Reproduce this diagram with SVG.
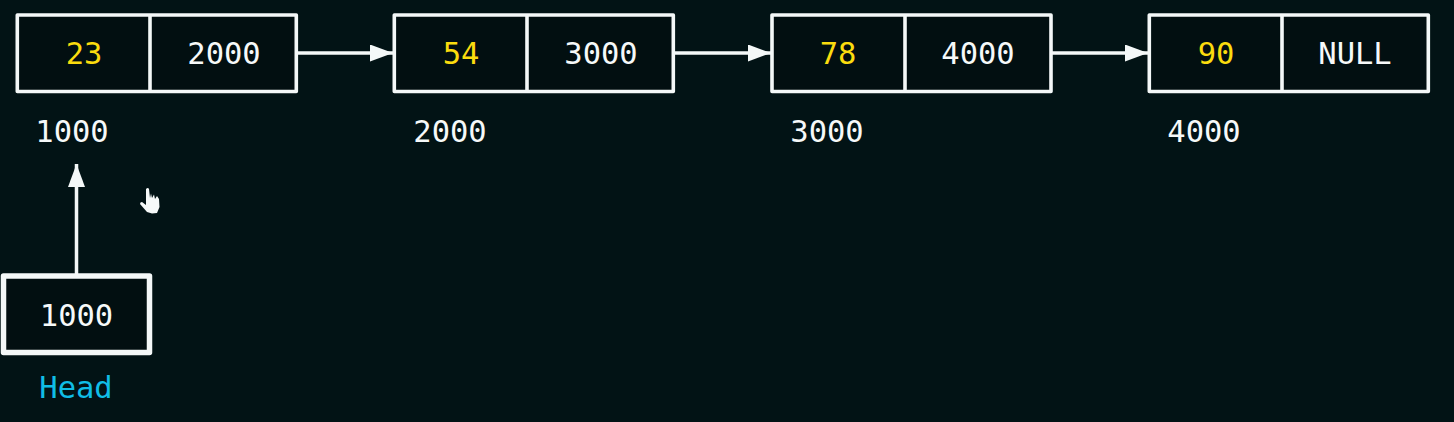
<svg xmlns="http://www.w3.org/2000/svg" width="1454" height="422" viewBox="0 0 1454 422">
<style>
.box{fill:#020f11;stroke:#f4f8f8;stroke-width:3.600;stroke-linejoin:round}
.thick{stroke-width:5.500}
.t{font-family:"DejaVu Sans Mono","Liberation Mono",monospace;font-size:30.500px;text-anchor:middle;fill:#f6f9f9}
.y{fill:#fbdc0e}
.h{fill:#10bde6}
.c{stroke:#f4f8f8;stroke-width:3.500;fill:none}
</style>
<defs>
<marker id="a" markerUnits="userSpaceOnUse" markerWidth="24" markerHeight="18" refX="23" refY="8.500" orient="auto"><path d="M0 0L23 8.500L0 17Z" fill="#f4f8f8"/></marker>
</defs>
<rect width="1454" height="422" fill="#021315"/>
<g id="connectors">
<path class="c" d="M298 53H393" marker-end="url(#a)"/>
<path class="c" d="M675 53H771" marker-end="url(#a)"/>
<path class="c" d="M1052 53H1148" marker-end="url(#a)"/>
<path class="c" d="M76.500 275V164" marker-end="url(#a)"/>
</g>
<g id="node-1"><rect class="box" x="17.300" y="15" width="279" height="76.500"/><path class="box" d="M150 15V91.500"/><text class="t y" x="84" y="64">23</text><text class="t" x="224" y="64">2000</text><text class="t" x="72" y="142">1000</text></g>
<g id="node-2"><rect class="box" x="394.300" y="15" width="279" height="76.500"/><path class="box" d="M527 15V91.500"/><text class="t y" x="461" y="64">54</text><text class="t" x="601" y="64">3000</text><text class="t" x="450" y="142">2000</text></g>
<g id="node-3"><rect class="box" x="772" y="15" width="279" height="76.500"/><path class="box" d="M905 15V91.500"/><text class="t y" x="838" y="64">78</text><text class="t" x="978" y="64">4000</text><text class="t" x="827" y="142">3000</text></g>
<g id="node-4"><rect class="box" x="1149.300" y="15" width="279" height="76.500"/><path class="box" d="M1282 15V91.500"/><text class="t y" x="1216" y="64">90</text><text class="t" x="1355" y="64">NULL</text><text class="t" x="1204" y="142">4000</text></g>
<g id="head"><rect class="box thick" x="3.500" y="276" width="146" height="76.500"/><text class="t" x="76.500" y="326">1000</text><text class="t h" x="76" y="398">Head</text></g>
<path id="cursor" d="M146 189Q148 187 149 189L150 198L151 193.500L152 198L154 194.500L155 199L157 196L159 199L159.500 207L157 213L152 213.500L147 212L140 204Q140 202 142 202L146 205Z" fill="#f6f9f9"/>
</svg>
